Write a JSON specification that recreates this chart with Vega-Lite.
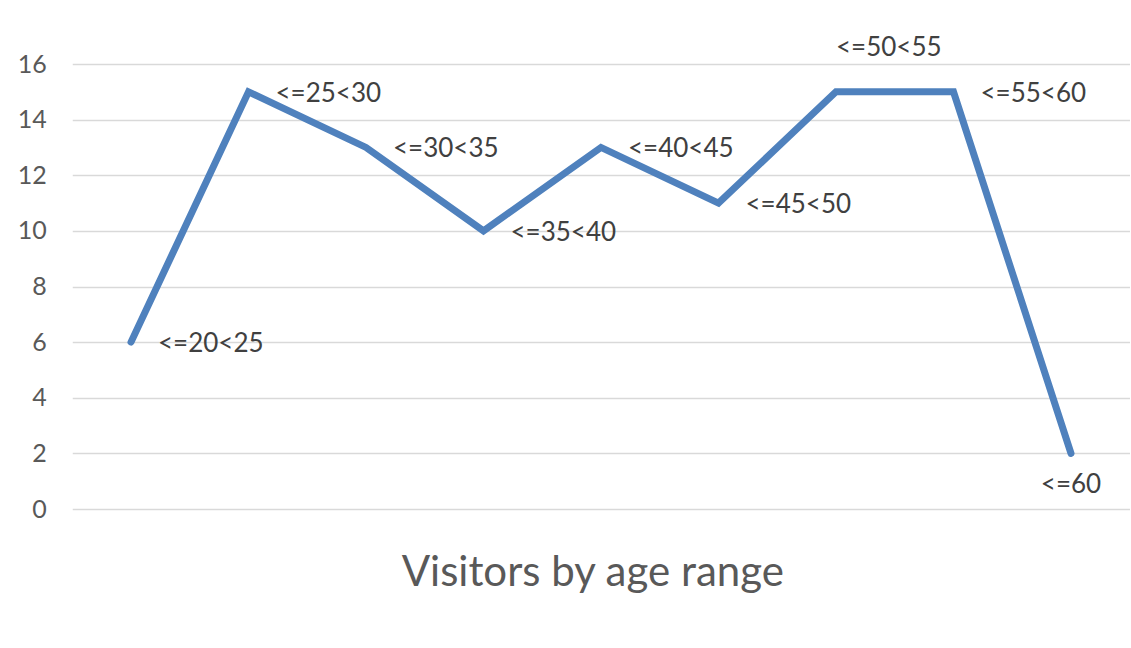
{
  "$schema": "https://vega.github.io/schema/vega-lite/v6.json",
  "autosize": "none",
  "width": 1057.5,
  "height": 445,
  "padding": {"left": 72.25, "top": 64, "right": 0, "bottom": 139},
  "background": "white",
  "config": {"view": {"stroke": null}, "font": "Lato"},
  "data": {"values": [
    {"range": "<=20<25", "visitors": 6},
    {"range": "<=25<30", "visitors": 15},
    {"range": "<=30<35", "visitors": 13},
    {"range": "<=35<40", "visitors": 10},
    {"range": "<=40<45", "visitors": 13},
    {"range": "<=45<50", "visitors": 11},
    {"range": "<=50<55", "visitors": 15},
    {"range": "<=55<60", "visitors": 15},
    {"range": "<=60", "visitors": 2}
  ]},
  "encoding": {
    "x": {"field": "range", "type": "nominal", "sort": null,
      "scale": {"type": "point", "padding": 0.5},
      "axis": {"labels": false, "ticks": false, "domain": false, "grid": false,
        "title": "Visitors by age range", "titleFont": "Lato", "titleFontSize": 42, "titleFontWeight": "normal",
        "titleColor": "#595959", "titleBaseline": "alphabetic", "titleY": 76, "titleX": 520}},
    "y": {"field": "visitors", "type": "quantitative",
      "scale": {"domain": [0, 16], "nice": false},
      "axis": {"values": [0, 2, 4, 6, 8, 10, 12, 14, 16], "title": null, "domain": false, "ticks": false,
        "labelFontSize": 25, "labelColor": "#595959", "labelPadding": 26, "labelFont": "Lato",
        "gridColor": "#d9d9d9", "gridWidth": 1.5}}
  },
  "layer": [
    {"mark": {"type": "line", "color": "#4f81bd", "strokeWidth": 7, "strokeJoin": "miter", "strokeCap": "round"}},
    {"transform": [{"filter": {"field": "range", "oneOf": ["<=20<25", "<=25<30", "<=30<35", "<=35<40", "<=40<45", "<=45<50", "<=55<60"]}}],
      "mark": {"type": "text", "align": "left", "baseline": "middle", "dx": 27, "dy": 2, "fontSize": 26, "color": "#404040"},
      "encoding": {"text": {"field": "range"}}},
    {"transform": [{"filter": {"field": "range", "equal": "<=50<55"}}],
      "mark": {"type": "text", "align": "left", "baseline": "middle", "dx": 0, "dy": -44, "fontSize": 26, "color": "#404040"},
      "encoding": {"text": {"field": "range"}}},
    {"transform": [{"filter": {"field": "range", "equal": "<=60"}}],
      "mark": {"type": "text", "align": "center", "baseline": "middle", "dx": 0, "dy": 32, "fontSize": 26, "color": "#404040"},
      "encoding": {"text": {"field": "range"}}}
  ]
}
